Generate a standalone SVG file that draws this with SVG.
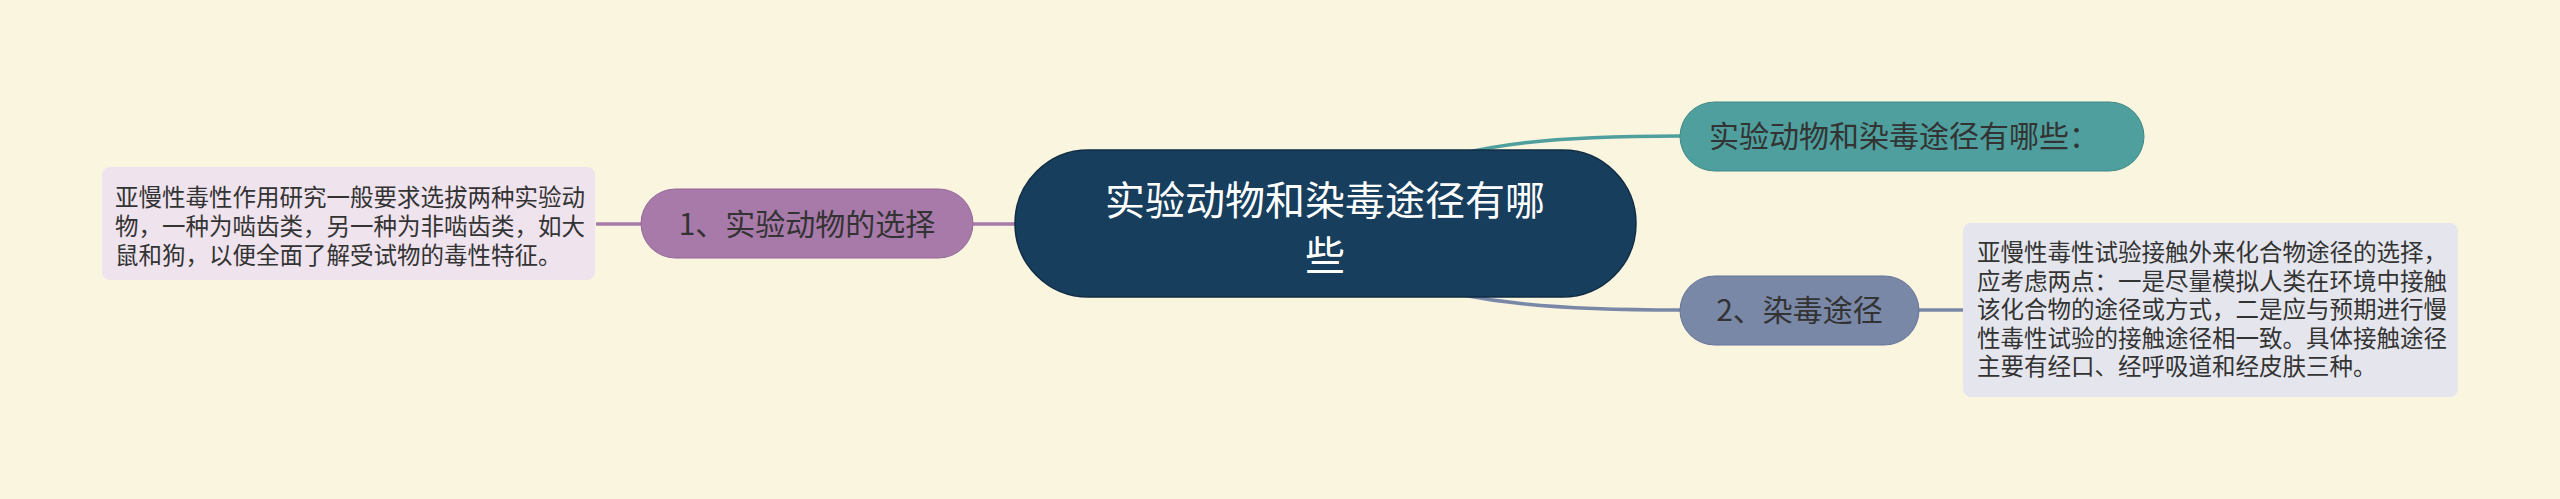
<svg xmlns="http://www.w3.org/2000/svg" width="2560" height="499" viewBox="0 0 2560 499">
<style>
.t{font-family:"Noto Sans CJK SC","Noto Sans",sans-serif}
.main{font-size:40px;fill:#ffffff}
.sub{font-size:30px;fill:#333333}
.det{font-size:23.5px;fill:#333333}
.c{fill:none;stroke-width:3.5}
</style>
<rect width="2560" height="499" fill="#faf5df"/>
<g id="connectors">
<path class="c" stroke="#a87aa9" d="M596 224 L641 224"/>
<path class="c" stroke="#a87aa9" d="M973 224 L1030 224"/>
<path class="c" stroke="#4e9f9d" d="M1400 172 C1480 142 1560 136 1680 136"/>
<path class="c" stroke="#7a88a8" d="M1400 280 C1480 304 1560 310 1680 310"/>
<path class="c" stroke="#7a88a8" d="M1918 310 L1963 310"/>
</g>
<g id="center">
<rect x="1015" y="150" width="621" height="147" rx="73.5" fill="#173e5c" stroke="#0f2c44" stroke-width="1.5"/>
<text class="t main" x="1325" y="215" text-anchor="middle">实验动物和染毒途径有哪</text>
<text class="t main" x="1325" y="270" text-anchor="middle">些</text>
</g>
<g id="n1">
<rect x="641" y="189" width="332" height="69" rx="34.5" fill="#a87aa9" stroke="#94679a" stroke-width="1"/>
<text class="t sub" x="807" y="234.5" text-anchor="middle">1、实验动物的选择</text>
</g>
<g id="n1d">
<rect x="102" y="167" width="493" height="113" rx="8" fill="#efe3ee"/>
<text class="t det" x="115" y="206">亚慢性毒性作用研究一般要求选拔两种实验动</text>
<text class="t det" x="115" y="235">物，一种为啮齿类，另一种为非啮齿类，如大</text>
<text class="t det" x="115" y="264">鼠和狗，以便全面了解受试物的毒性特征。</text>
</g>
<g id="n2">
<rect x="1680" y="102" width="464" height="69" rx="34.5" fill="#4e9f9d" stroke="#3f8a88" stroke-width="1"/>
<text class="t sub" x="1904" y="147" text-anchor="middle" font-size="29">实验动物和染毒途径有哪些：</text>
</g>
<g id="n3">
<rect x="1680" y="276" width="239" height="69" rx="34.5" fill="#7a88a8" stroke="#67749a" stroke-width="1"/>
<text class="t sub" x="1799.5" y="321" text-anchor="middle">2、染毒途径</text>
</g>
<g id="n3d">
<rect x="1963" y="223" width="495" height="174" rx="8" fill="#e5e6ed"/>
<text class="t det" x="1977" y="261">亚慢性毒性试验接触外来化合物途径的选择，</text>
<text class="t det" x="1977" y="289.5">应考虑两点：一是尽量模拟人类在环境中接触</text>
<text class="t det" x="1977" y="318">该化合物的途径或方式，二是应与预期进行慢</text>
<text class="t det" x="1977" y="346.5">性毒性试验的接触途径相一致。具体接触途径</text>
<text class="t det" x="1977" y="375">主要有经口、经呼吸道和经皮肤三种。</text>
</g>
</svg>
